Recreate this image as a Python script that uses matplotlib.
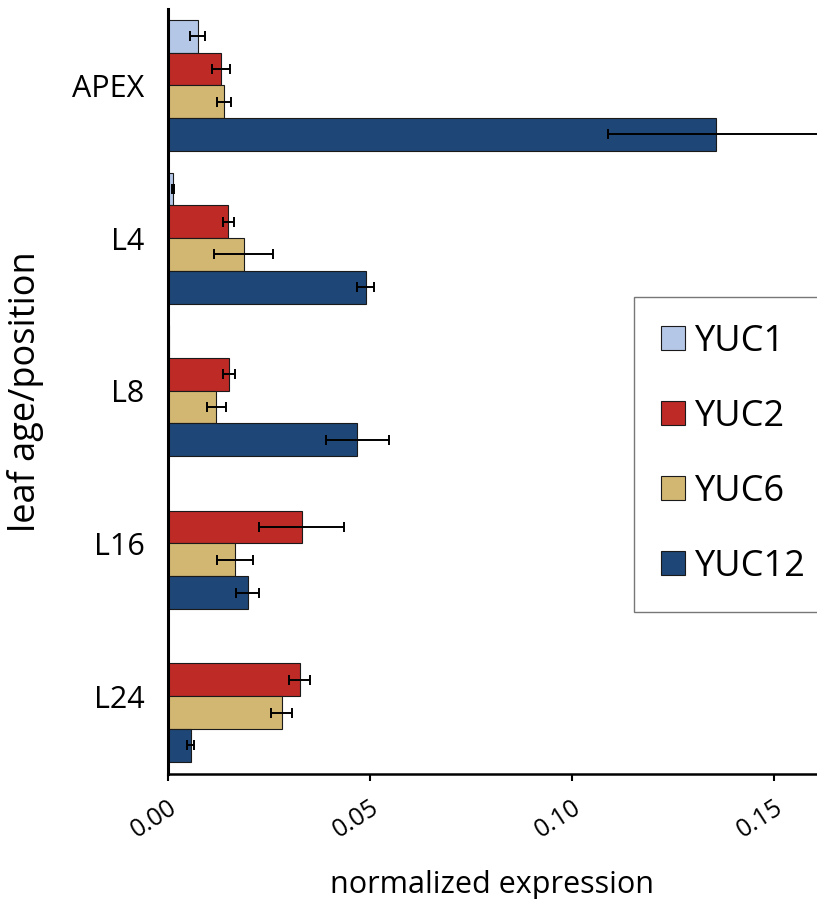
import matplotlib
matplotlib.use("Agg")
import matplotlib.pyplot as plt
from matplotlib.patches import Patch
import numpy as np

plt.rcParams['font.family'] = ['Open Sans', 'DejaVu Sans']

groups = ["APEX", "L4", "L8", "L16", "L24"]
series = ["YUC1", "YUC2", "YUC6", "YUC12"]
colors = ["#b4c7e7", "#be2a26", "#d2b772", "#1e4677"]

yuc1 = [0.0073, 0.0013, 0.0002, 0.0, 0.0]
yuc1_err = [0.0019, 0.0003, 0.0001, 0.0, 0.0]
yuc2 = [0.0132, 0.0149, 0.0150, 0.0331, 0.0326]
yuc2_err = [0.0022, 0.0014, 0.0015, 0.0105, 0.0026]
yuc6 = [0.0139, 0.0188, 0.0120, 0.0166, 0.0281]
yuc6_err = [0.0018, 0.0073, 0.0024, 0.0045, 0.0026]
yuc12 = [0.1356, 0.0489, 0.0468, 0.0197, 0.0056]
yuc12_err = [0.0268, 0.0021, 0.0078, 0.0028, 0.0008]

values = [yuc1, yuc2, yuc6, yuc12]
errors = [yuc1_err, yuc2_err, yuc6_err, yuc12_err]
xticks = [0.0, 0.05, 0.10, 0.15]
xticklabels = ["0.00", "0.05", "0.10", "0.15"]

W, H = 817, 899
fig = plt.figure(figsize=(W / 100, H / 100), dpi=100)
ax = fig.add_axes([168 / W, 1 - 774 / H, (W - 168) / W, (774 - 9) / H])

h = 0.2145
idx = np.arange(len(groups))
for j, (vals, errs, col, name) in enumerate(zip(values, errors, colors, series)):
    y = idx + (j - 1.5) * h
    ax.barh(y, vals, height=h, color=col, edgecolor="#1a1a1a", linewidth=0.8, label=name, zorder=2)
    v = np.array(vals); e = np.array(errs)
    m = e > 0
    ax.errorbar(v[m], y[m], xerr=e[m], fmt='none', ecolor='black', elinewidth=1.4,
                capsize=3.5, capthick=1.4, zorder=3)

ax.set_xlim(0, 0.1606)
ax.set_ylim(4.51, -0.5)
ax.set_yticks(idx)
ax.set_yticklabels(groups, fontsize=22)
ax.tick_params(axis='y', length=0, pad=17)
ax.set_xticks(xticks)
ax.set_xticklabels(xticklabels, fontsize=18, rotation=33, ha='right', rotation_mode='anchor')
ax.tick_params(axis='x', direction='out', length=5, width=1.5, pad=10)

for s in ['top', 'right']:
    ax.spines[s].set_visible(False)
ax.spines['left'].set_linewidth(2.2)
ax.spines['bottom'].set_linewidth(1.8)

ax.set_xlabel("normalized expression", fontsize=22)
ax.xaxis.set_label_coords((492 - 168) / 649, -0.125)
ax.set_ylabel("leaf age/position", fontsize=26)
ax.yaxis.set_label_coords(-(168 - 44) / 649, 0.5)

handles = [Patch(facecolor=c, edgecolor="#1a1a1a", linewidth=0.8) for c in colors]
leg = fig.legend(handles, series, loc='upper left', bbox_to_anchor=(634 / W, 1 - 297 / H),
                 fontsize=26, frameon=True, fancybox=False, handlelength=0.65, handleheight=0.65,
                 handletextpad=0.3, labelspacing=1.08, borderpad=0.75, borderaxespad=0)
leg.get_frame().set_edgecolor("#555555")
leg.get_frame().set_linewidth(1.0)

fig.savefig("out.png", dpi=100)
